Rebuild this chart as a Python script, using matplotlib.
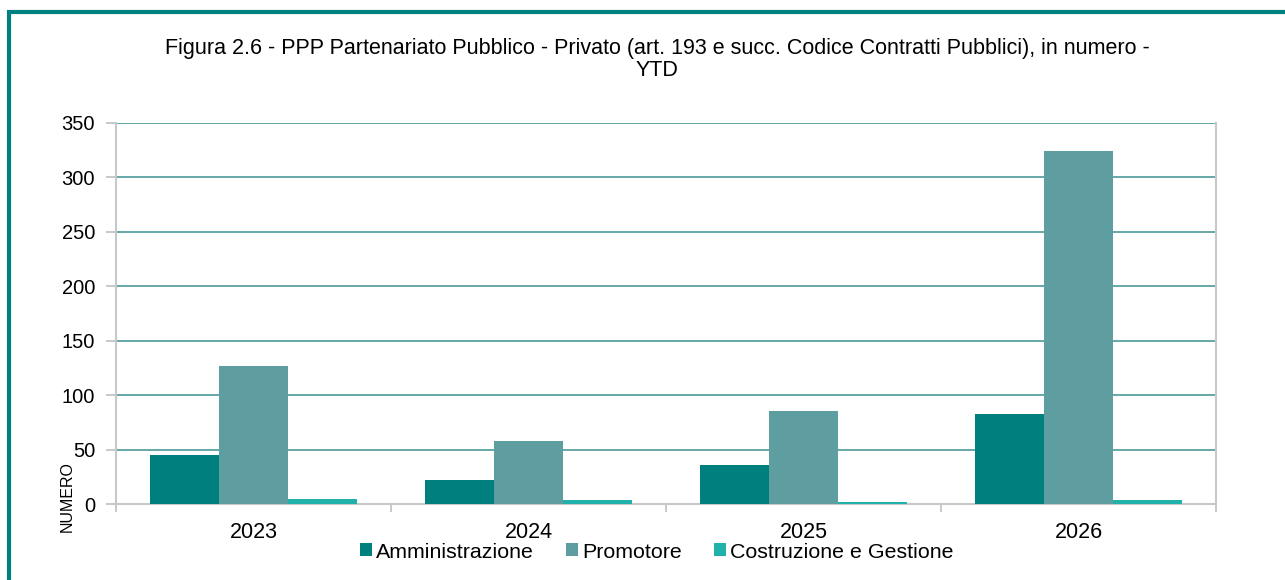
import matplotlib
matplotlib.use("Agg")
import matplotlib.pyplot as plt
from matplotlib.patches import Rectangle
import numpy as np

years = ["2023", "2024", "2025", "2026"]
series_names = ["Amministrazione", "Promotore", "Costruzione e Gestione"]
amministrazione = [45, 22, 36, 83]
promotore = [127, 58, 85, 324]
costruzione = [5, 4, 2, 4]
colors = ["#007F7F", "#5F9EA0", "#20B2AA"]
title = "Figura 2.6 - PPP Partenariato Pubblico - Privato (art. 193 e succ. Codice Contratti Pubblici), in numero -\nYTD"

plt.rcParams['font.family'] = ['Liberation Sans', 'DejaVu Sans']

fig = plt.figure(figsize=(12.85, 5.8), dpi=100)
W, H = 1285, 580
ax = fig.add_axes([116 / W, 1 - 504 / H, 1100 / W, 381 / H])

# outer frame
fig.patches.append(Rectangle((9 / W, -0.1), 1.2, 1 - 12 / H + 0.1, transform=fig.transFigure,
                             fill=False, edgecolor="#008080", linewidth=3, zorder=0))

x = np.arange(len(years))
bw = 0.25
data = [amministrazione, promotore, costruzione]
for i, (vals, c, name) in enumerate(zip(data, colors, series_names)):
    ax.bar(x + (i - 1) * bw, vals, width=bw, color=c, label=name, zorder=3)

ax.set_xlim(-0.5, len(years) - 0.5)
ax.set_ylim(0, 350)
ax.set_yticks(range(0, 351, 50))
ax.yaxis.grid(True, color="#4A9A9A", linewidth=1.2, zorder=1)
ax.set_axisbelow(True)

ax.set_xticks(x)
ax.set_xticklabels(years, fontsize=15.5)
ax.set_xticks(np.arange(-0.5, len(years), 1.0), minor=True)
ax.tick_params(axis="x", which="major", length=0, pad=13)
ax.tick_params(axis="x", which="minor", length=6, color="#BFBFBF", width=1.2)
ax.tick_params(axis="y", labelsize=14.5, length=7, color="#BFBFBF", width=1.2, pad=8)

for s in ["left", "right", "bottom"]:
    ax.spines[s].set_color("#C8C8C8")
    ax.spines[s].set_linewidth(1.5)
ax.spines["top"].set_visible(False)

fig.text(657 / W, 1 - 59.5 / H, title, ha="center", va="center", fontsize=15.5, linespacing=1.12)
fig.text(67 / W, 1 - 497 / H, "NUMERO", rotation=90, ha="center", va="center", fontsize=11.5)

leg = fig.legend(loc="center", bbox_to_anchor=(657 / W, 1 - 552 / H), ncol=3, frameon=False,
                 fontsize=15.4, handlelength=0.55, handleheight=0.55, handletextpad=0.2,
                 columnspacing=1.5)

fig.savefig("out.png", dpi=100)
